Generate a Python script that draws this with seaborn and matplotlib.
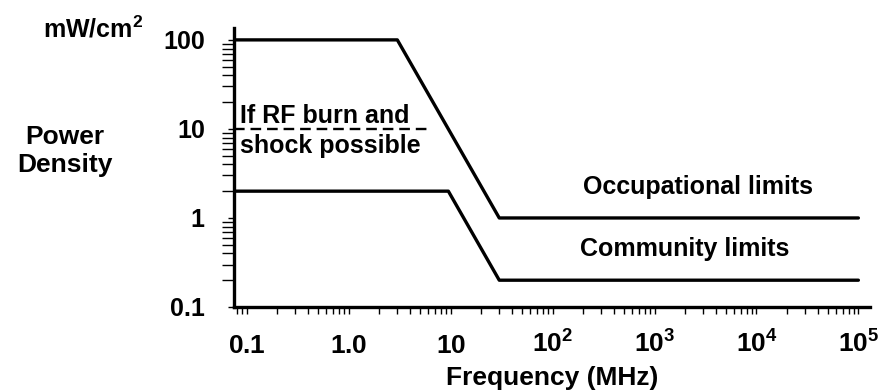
import matplotlib
matplotlib.use("Agg")
import matplotlib.pyplot as plt
import seaborn as sns
import pandas as pd

# ── data ─────────────────────────────────────
occ_freq = [0.075, 3, 30, 1e5]
occ_power = [100, 100, 1, 1]
com_freq = [0.075, 9.5, 30, 1e5]
com_power = [2, 2, 0.2, 0.2]
burn_freq = [0.075, 6.5]
burn_power = [10, 10]

x_ticks = [0.1, 1, 10, 100, 1e3, 1e4, 1e5]
x_labels = ["$0.1$", "$1.0$", "$10$", "$10^2$", "$10^3$", "$10^4$", "$10^5$"]
y_ticks = [0.1, 1, 10, 100]
y_labels = ["0.1", "1", "10", "100"]

# ── style ────────────────────────────────────
sns.set_theme(style="ticks")
plt.rcParams["font.family"] = ["Liberation Sans", "DejaVu Sans"]
plt.rcParams["font.weight"] = "bold"
plt.rcParams["text.color"] = "black"
plt.rcParams["axes.labelcolor"] = "black"
plt.rcParams["mathtext.fontset"] = "custom"
plt.rcParams["mathtext.rm"] = "Liberation Sans:bold"
plt.rcParams["mathtext.default"] = "rm"

fig = plt.figure(figsize=(8.94, 3.92), dpi=100)
ax = fig.add_axes([234 / 894, 1 - 307 / 392, 636 / 894, 279 / 392])

occ = pd.DataFrame({"freq": occ_freq, "power": occ_power})
com = pd.DataFrame({"freq": com_freq, "power": com_power})
burn = pd.DataFrame({"freq": burn_freq, "power": burn_power})

sns.lineplot(data=occ, x="freq", y="power", ax=ax, color="black",
             lw=2.4, sort=False, estimator=None)
sns.lineplot(data=com, x="freq", y="power", ax=ax, color="black",
             lw=2.4, sort=False, estimator=None)
sns.lineplot(data=burn, x="freq", y="power", ax=ax, color="black",
             lw=1.7, sort=False, estimator=None, dashes=False,
             linestyle=(0, (4.5, 2.5)))

ax.set_xscale("log")
ax.set_yscale("log")
ax.set_xlim(0.075, 1.3e5)
ax.set_ylim(0.1, 136)

ax.set_xticks(x_ticks)
ax.set_xticklabels(x_labels)
ax.set_yticks(y_ticks)
ax.set_yticklabels(y_labels)

sns.despine(ax=ax)
for s in ["left", "bottom"]:
    ax.spines[s].set_linewidth(2.4)
    ax.spines[s].set_color("black")

ax.tick_params(axis="x", which="major", direction="out", length=5,
               width=1, pad=28, labelsize=19, colors="black")
ax.tick_params(axis="x", which="minor", direction="out", length=5,
               width=1, colors="black")
ax.tick_params(axis="y", which="major", direction="out", length=4,
               width=1, pad=17, labelsize=18, colors="black")
ax.tick_params(axis="y", which="minor", direction="out", length=9,
               width=1, colors="black")
for lab in ax.get_xticklabels():
    lab.set_verticalalignment("baseline")

ax.set_xlabel("Frequency (MHz)", fontsize=19, fontweight="bold",
              color="black", labelpad=6)
ax.set_ylabel("Power\nDensity", fontsize=19, fontweight="bold",
              color="black", rotation=0, ha="center", va="center")
ax.yaxis.set_label_coords(-0.266, 0.56)

fig.text(143 / 894, 1 - 38 / 392, "mW/cm$^2$", fontsize=18,
         fontweight="bold", ha="right", va="baseline")

ax.text(0.086, 11.7, "If RF burn and", fontsize=18, fontweight="bold",
        va="baseline")
ax.text(0.086, 5.4, "shock possible", fontsize=18, fontweight="bold",
        va="baseline")
ax.text(200, 1.86, "Occupational limits", fontsize=18, fontweight="bold",
        va="baseline")
ax.text(185, 0.374, "Community limits", fontsize=18, fontweight="bold",
        va="baseline")

plt.savefig("out.png", dpi=100)
